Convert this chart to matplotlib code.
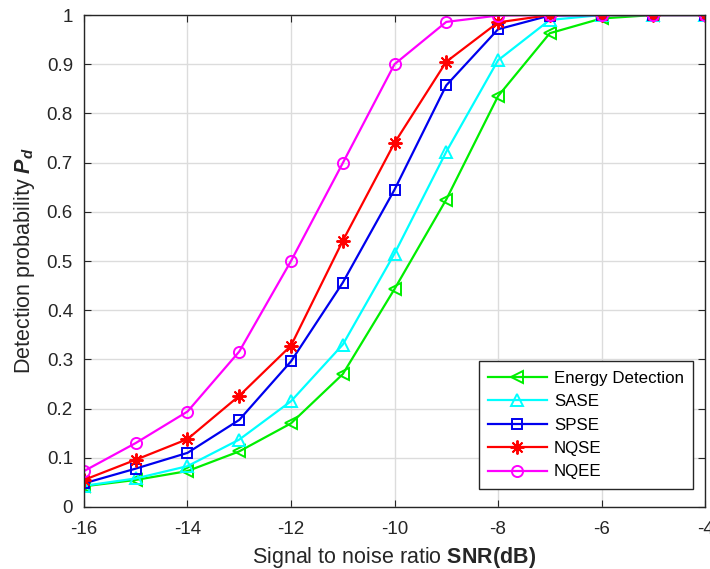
import matplotlib
matplotlib.use("Agg")
import matplotlib.pyplot as plt

plt.rcParams['font.family'] = ['Liberation Sans', 'DejaVu Sans']
plt.rcParams['mathtext.fontset'] = 'custom'
plt.rcParams['mathtext.rm'] = 'Liberation Sans'
plt.rcParams['mathtext.it'] = 'Liberation Sans:italic'
plt.rcParams['mathtext.bf'] = 'Liberation Sans:bold'
plt.rcParams['mathtext.bfit'] = 'Liberation Sans:bold:italic'

snr = [-16, -15, -14, -13, -12, -11, -10, -9, -8, -7, -6, -5, -4]
energy = [0.042, 0.055, 0.073, 0.113, 0.170, 0.270, 0.443, 0.625, 0.835, 0.963, 0.993, 1.0, 1.0]
sase = [0.043, 0.058, 0.083, 0.137, 0.215, 0.330, 0.515, 0.722, 0.908, 0.990, 1.0, 1.0, 1.0]
spse = [0.048, 0.078, 0.110, 0.177, 0.296, 0.456, 0.645, 0.857, 0.971, 0.999, 1.0, 1.0, 1.0]
nqse = [0.055, 0.096, 0.138, 0.226, 0.328, 0.541, 0.740, 0.905, 0.985, 1.0, 1.0, 1.0, 1.0]
nqee = [0.073, 0.130, 0.194, 0.316, 0.500, 0.699, 0.900, 0.986, 0.999, 1.0, 1.0, 1.0, 1.0]

labels = ['Energy Detection', 'SASE', 'SPSE', 'NQSE', 'NQEE']
colors = ['#00ee00', '#00ffff', '#0000ee', '#ff0000', '#ff00ff']
markers = ['<', '^', 's', (8, 2, 0), 'o']
sizes = [8.5, 8.5, 6.5, 10, 8]
series = [energy, sase, spse, nqse, nqee]

fig = plt.figure(figsize=(7.1, 5.69), dpi=100)
ax = fig.add_axes([0.1183, 0.109, 0.8747, 0.8646])

for y, lab, c, m, ms in zip(series, labels, colors, markers, sizes):
    ax.plot(snr, y, color=c, marker=m, markersize=ms, markerfacecolor='none',
            markeredgecolor=c, markeredgewidth=1.4, linewidth=1.6, label=lab)

ax.set_xlim(-16, -4)
ax.set_ylim(0, 1)
ax.set_xticks([-16, -14, -12, -10, -8, -6, -4])
ax.set_xticklabels(['-16', '-14', '-12', '-10', '-8', '-6', '-4'])
ax.set_yticks([0, 0.1, 0.2, 0.3, 0.4, 0.5, 0.6, 0.7, 0.8, 0.9, 1.0])
ax.set_yticklabels(['0', '0.1', '0.2', '0.3', '0.4', '0.5', '0.6', '0.7', '0.8', '0.9', '1'])
ax.grid(True, color='#dcdcdc', linewidth=1.0)
ax.set_axisbelow(True)
ax.tick_params(direction='in', top=True, right=True, labelsize=13.5, colors='#262626', length=5)
ax.tick_params(axis='x', pad=10)
ax.tick_params(axis='y', pad=8)
for s in ax.spines.values():
    s.set_color('#262626')
    s.set_linewidth(1.0)

ax.set_xlabel(r'Signal to noise ratio $\mathbf{SNR(dB)}$', fontsize=15.5, color='#262626', labelpad=5)
ax.set_ylabel(r'Detection probability $\mathbfit{P_d}$', fontsize=15.5, color='#262626', labelpad=7)

leg = ax.legend(loc='lower right', bbox_to_anchor=(0.981, 0.037), fontsize=12.2,
                frameon=True, fancybox=False, edgecolor='#262626', framealpha=1,
                borderpad=0.55, labelspacing=0.5, handlelength=3.5, handletextpad=0.4,
                borderaxespad=0)
leg.get_frame().set_linewidth(1.0)

fig.savefig('out.png', dpi=100)
